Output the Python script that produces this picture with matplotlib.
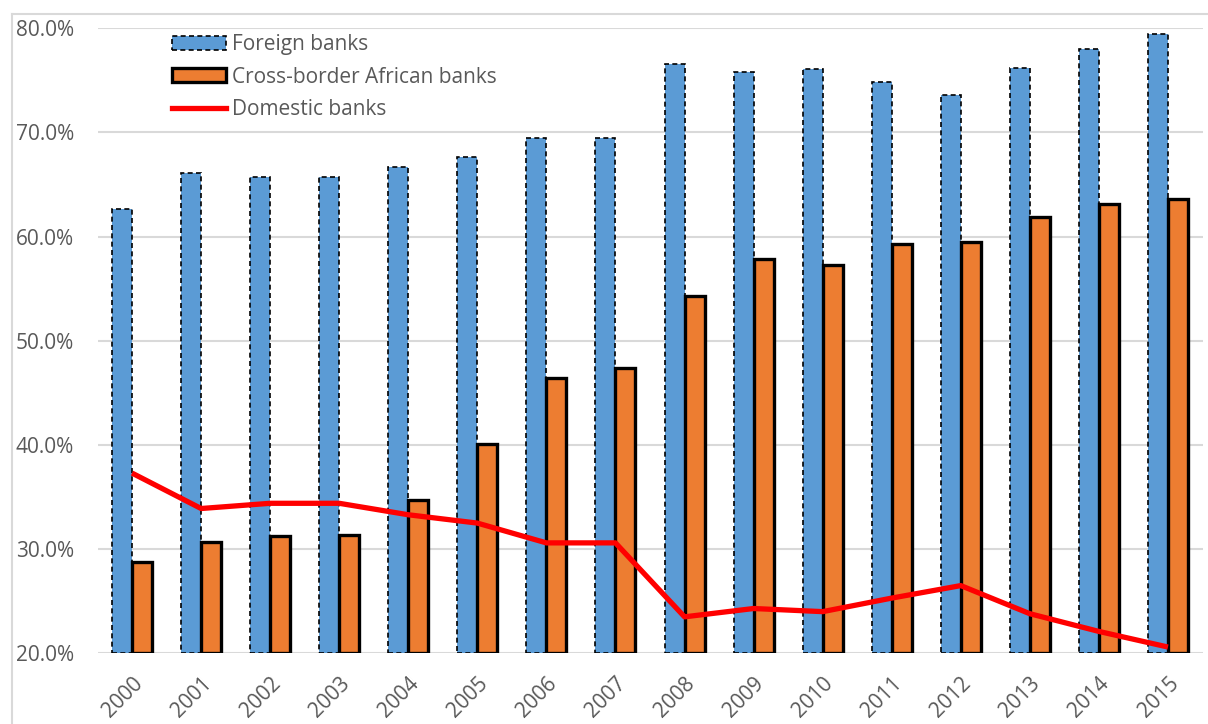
import numpy as np
import matplotlib.pyplot as plt
from matplotlib.lines import Line2D
from matplotlib.patches import Patch
from matplotlib.ticker import FuncFormatter

years = [str(y) for y in range(2000, 2016)]
foreign = [62.7, 66.1, 65.7, 65.7, 66.7, 67.6, 69.5, 69.5, 76.6, 75.8, 76.1, 74.8, 73.6, 76.2, 78.0, 79.5]
cross_border = [28.8, 30.7, 31.3, 31.4, 34.7, 40.1, 46.4, 47.4, 54.3, 57.9, 57.3, 59.3, 59.5, 61.9, 63.1, 63.6]
domestic = [37.3, 33.9, 34.4, 34.4, 33.3, 32.5, 30.6, 30.6, 23.5, 24.3, 24.0, 25.3, 26.5, 23.8, 22.1, 20.6]

plt.rcParams['font.family'] = ['Open Sans', 'DejaVu Sans']
grey = '#595959'
fs = 15

fig = plt.figure(figsize=(12.08, 7.24), dpi=100)
ax = fig.add_axes([97.5/1208, 1-653.3/724, 1105/1208, 625/724])

x = np.arange(len(years))
w = 0.29
bottom = 20
ax.bar(x - w/2, np.array(foreign) - bottom, w, bottom=bottom, color='#5B9BD5',
       edgecolor='black', linewidth=1.2, linestyle=(0, (3, 2)), zorder=2)
ax.bar(x + w/2, np.array(cross_border) - bottom, w, bottom=bottom, color='#ED7D31',
       edgecolor='black', linewidth=2.4, zorder=3)
ax.plot(x, domestic, color='#FF0000', linewidth=3.8, zorder=4, solid_capstyle='butt')

ax.set_xlim(-0.5, len(years) - 0.5)
ax.set_ylim(20, 80)
ax.set_yticks(np.arange(20, 81, 10))
ax.yaxis.set_major_formatter(FuncFormatter(lambda v, p: f'{v:.1f}%'))
ax.grid(axis='y', color='#d9d9d9', linewidth=1.5, zorder=0)
ax.set_axisbelow(True)
for s in ax.spines.values():
    s.set_visible(False)
ax.tick_params(axis='y', length=0, labelsize=fs, labelcolor=grey, pad=17)
ax.tick_params(axis='x', length=0, labelsize=fs, labelcolor=grey, pad=14)
ax.set_xticks(x)
ax.set_xticklabels(years, rotation=45, ha='right', rotation_mode='anchor')

handles = [
    Patch(facecolor='#5B9BD5', edgecolor='black', linewidth=1.2, linestyle=(0, (3, 2))),
    Patch(facecolor='#ED7D31', edgecolor='black', linewidth=2.4),
    Line2D([0], [0], color='#FF0000', linewidth=3.8),
]
ax.legend(handles, ['Foreign banks', 'Cross-border African banks', 'Domestic banks'],
          loc='upper left', bbox_to_anchor=(0.06, 1.004), frameon=False, fontsize=fs,
          labelcolor=grey, handlelength=2.6, handleheight=0.65, handletextpad=0.25,
          labelspacing=0.55, borderaxespad=0)

# chart area border (top and left edges)
fig.add_artist(Line2D([12/1208, 12/1208], [0, 1-14/724], color='#d9d9d9', linewidth=1.5,
                      transform=fig.transFigure))
fig.add_artist(Line2D([12/1208, 1], [1-14/724, 1-14/724], color='#d9d9d9', linewidth=1.5,
                      transform=fig.transFigure))

fig.savefig('out.png', dpi=100)
